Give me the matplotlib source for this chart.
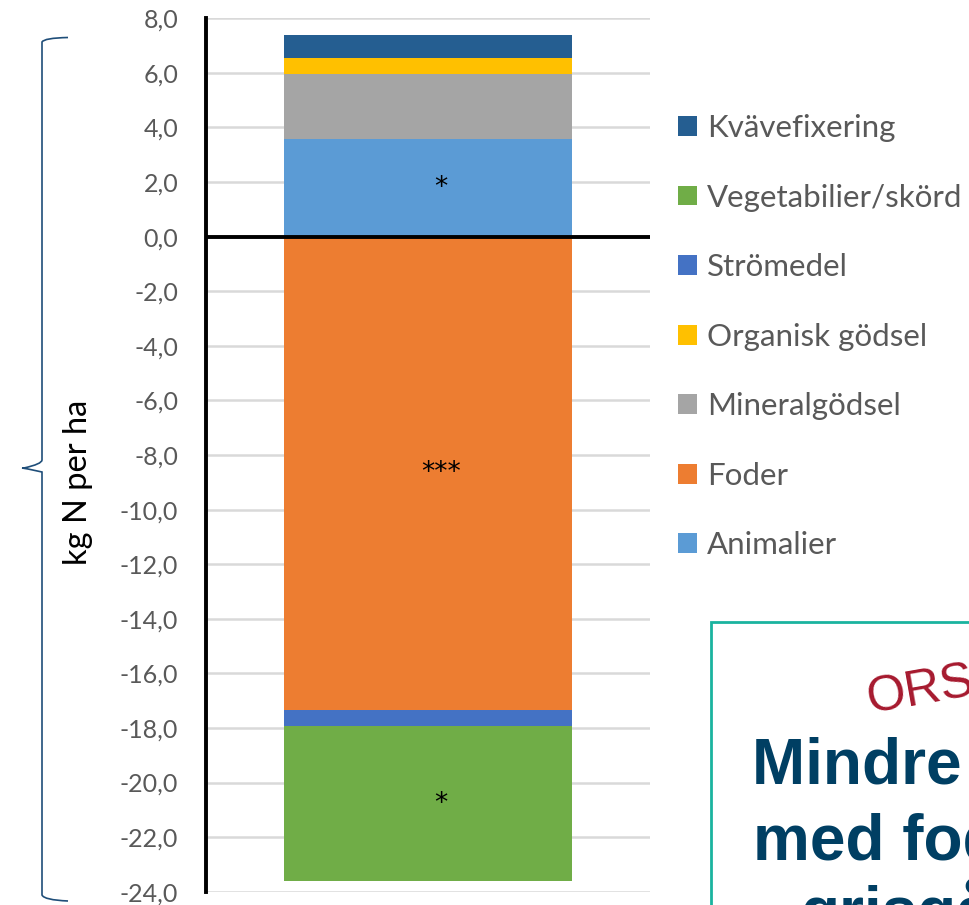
import numpy as np
import matplotlib.pyplot as plt
from matplotlib.patches import Patch, Rectangle, PathPatch
from matplotlib.path import Path

# Kvävebalans per kategori (kg N per ha)
kategorier = ['Animalier', 'Mineralgödsel', 'Organisk gödsel', 'Kvävefixering',
              'Foder', 'Strömedel', 'Vegetabilier/skörd']
varden = [3.57, 2.40, 0.58, 0.82, -17.35, -0.59, -5.68]
farger = ['#5b9bd5', '#a5a5a5', '#ffc000', '#255e91',
          '#ed7d31', '#4472c4', '#70ad47']
signifikans = ['*', '', '', '', '***', '', '*']
legend_ordning = ['Kvävefixering', 'Vegetabilier/skörd', 'Strömedel',
                  'Organisk gödsel', 'Mineralgödsel', 'Foder', 'Animalier']
y_ticks = np.arange(-24, 9, 2)

plt.rcParams['font.family'] = ['Lato', 'DejaVu Sans']

fig = plt.figure(figsize=(9.7, 9.05), dpi=100)
ax = fig.add_axes([206 / 970, 1 - 891.7 / 905, 444 / 970, (891.7 - 18.3) / 905])

pos_bottom = 0.0
neg_bottom = 0.0
for kat, v, c, sig in zip(kategorier, varden, farger, signifikans):
    if v >= 0:
        bottom = pos_bottom
        pos_bottom += v
    else:
        bottom = neg_bottom
        neg_bottom += v
    ax.bar(0, v, bottom=bottom, width=0.65, color=c, label=kat, zorder=3)
    if sig:
        ax.text(0.03, bottom + v / 2, sig, ha='center', va='center',
                fontsize=19, color='black', family='DejaVu Sans', zorder=4)

ax.set_xlim(-0.5, 0.5)
ax.set_ylim(-24, 8)
ax.set_yticks(y_ticks)
ax.set_yticklabels([f'{t:.1f}'.replace('.', ',') for t in y_ticks])
ax.set_xticks([])
ax.tick_params(axis='y', length=0, pad=20, labelsize=18, labelcolor='#595959')
ax.grid(axis='y', color='#d9d9d9', lw=1.8, zorder=0)
ax.axhline(0, color='black', lw=2.8, zorder=5)
for side in ['top', 'right', 'bottom']:
    ax.spines[side].set_visible(False)
ax.spines['left'].set_color('black')
ax.spines['left'].set_linewidth(2.8)

fig.text(78 / 970, 1 - 482 / 905, 'kg N per ha', rotation=90, ha='center',
         va='center', fontsize=23.5, color='black')

# legend
farg_map = dict(zip(kategorier, farger))
handles = [Patch(facecolor=farg_map[k], label=k) for k in legend_ordning]
fig.legend(handles=handles, loc='upper left',
           bbox_to_anchor=(678 / 970, 1 - 114 / 905), frameon=False,
           fontsize=22.5, labelcolor='#595959', handlelength=0.6,
           handleheight=0.6, handletextpad=0.33, labelspacing=1.33,
           borderpad=0, borderaxespad=0)

# klammer till vänster
def fp(x, y):
    return (x / 970, 1 - y / 905)

pts = [fp(68, 37.5), fp(44, 38), fp(42, 42), fp(42, 460), fp(42, 464), fp(24, 468),
       fp(22, 468), fp(24, 468), fp(42, 472), fp(42, 476), fp(42, 895),
       fp(44, 900), fp(68, 901)]
codes = [Path.MOVETO, Path.CURVE3, Path.CURVE3, Path.LINETO, Path.CURVE3, Path.CURVE3,
         Path.LINETO, Path.CURVE3, Path.CURVE3, Path.LINETO, Path.LINETO,
         Path.CURVE3, Path.CURVE3]
fig.add_artist(PathPatch(Path(pts, codes), transform=fig.transFigure,
                         fill=False, ec='#1f4e79', lw=1.2))

# textruta nere till höger
fig.add_artist(Rectangle((711 / 970, -0.1), 0.5, 0.1 + 1 - 622 / 905,
                         transform=fig.transFigure, fill=False,
                         ec='#1ab39f', lw=2))
fig.text(870 / 970, 1 - 713 / 905, 'ORSAK', rotation=10, rotation_mode='anchor',
         ha='left', va='baseline', fontsize=36, color='#a6192e',
         family='Liberation Sans')
fig.text(752 / 970, 1 - 783 / 905, 'Mindre kväve', ha='left', va='baseline',
         fontsize=46, weight='bold', color='#003f63', family='Liberation Sans')
fig.text(753 / 970, 1 - 860 / 905, 'med foder på', ha='left', va='baseline',
         fontsize=46, weight='bold', color='#003f63', family='Liberation Sans')
fig.text(800 / 970, 1 - 932 / 905, 'grisgårdar', ha='left', va='baseline',
         fontsize=46, weight='bold', color='#003f63', family='Liberation Sans')

fig.savefig('out.png', dpi=100)
